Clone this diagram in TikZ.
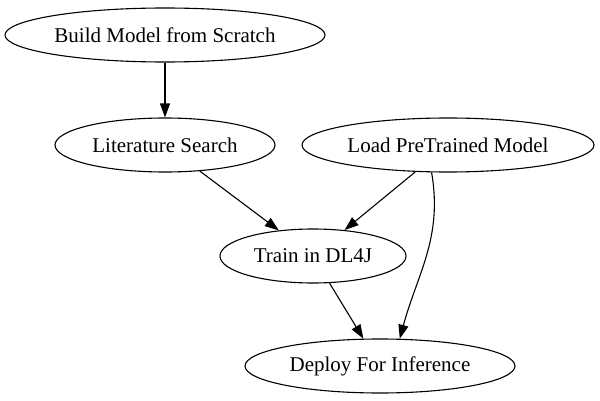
\documentclass[tikz,border=0pt]{standalone}
\usepackage{fontspec}
\setmainfont{Liberation Serif}
\usepackage{tikz}
\usetikzlibrary{shapes.geometric}
\usetikzlibrary{arrows.meta}
\tikzstyle{step box} = [ellipse, draw=black, line width=1.1pt, inner sep=0pt, minimum height=54pt, font=\fontsize{21}{24}\selectfont]
\tikzstyle{arrow} = [-{Triangle[length=14pt,width=10pt]}, line width=1.1pt]

\begin{document}
\begin{tikzpicture}[x=1pt, y=1pt]

  \useasboundingbox (0,0) rectangle (600,400);

  % nodes
  \node[step box, minimum width=320pt] (build) at (165,365) {Build Model from Scratch};
  \node[step box, minimum width=220pt] (lit) at (165,255) {Literature Search};
  \node[step box, minimum width=292pt] (load) at (448,255) {Load PreTrained Model};
  \node[step box, minimum width=186pt] (train) at (313,144) {Train in DL4J};
  \node[step box, minimum width=270pt] (deploy) at (380,34) {Deploy For Inference};

  % edges
  \draw[arrow] (build) -- (lit);
  \draw[arrow] (lit) -- (train);
  \draw[arrow] (load) -- (train);
  \draw[arrow] (train) -- (deploy);
  \draw[arrow] (load.239) to[out=-80, in=75] (deploy.54);

\end{tikzpicture}
\end{document}
